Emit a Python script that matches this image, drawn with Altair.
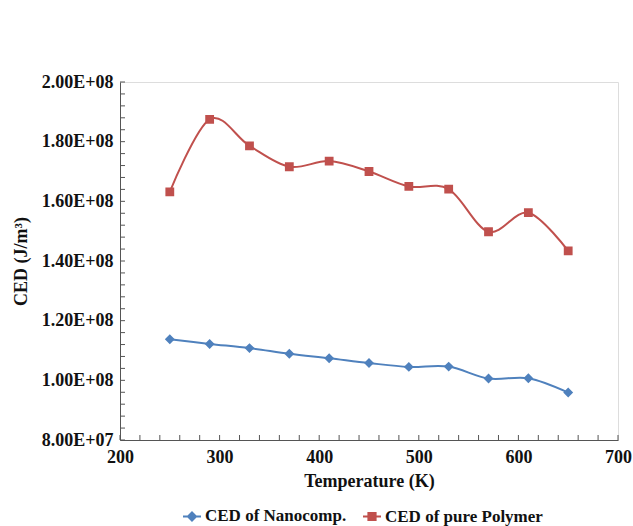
import altair as alt
import pandas as pd

temperature = [250, 290, 330, 370, 410, 450, 490, 530, 570, 610, 650]
ced_nanocomp = [1.1375e8, 1.122e8, 1.108e8, 1.089e8, 1.074e8, 1.058e8, 1.045e8, 1.046e8, 1.006e8, 1.007e8, 9.59e7]
ced_polymer = [1.632e8, 1.875e8, 1.786e8, 1.716e8, 1.735e8, 1.700e8, 1.650e8, 1.641e8, 1.498e8, 1.562e8, 1.434e8]
series_names = ["CED of Nanocomp.", "CED of pure Polymer"]
series_colors = ["#4F81BD", "#C0504D"]

x_major = [200, 300, 400, 500, 600, 700]
y_major = [8e7, 1.0e8, 1.2e8, 1.4e8, 1.6e8, 1.8e8, 2.0e8]
x_minor = [v for v in range(200, 701, 20)]
y_minor = [8e7 + i * 4e6 for i in range(31)]

rows = []
for t, a, b in zip(temperature, ced_nanocomp, ced_polymer):
    rows.append({"T": t, "CED": a, "Series": series_names[0]})
    rows.append({"T": t, "CED": b, "Series": series_names[1]})
df = pd.DataFrame(rows)

W, H = 498, 358
FONT = "'Liberation Serif', 'Times New Roman', 'DejaVu Serif', serif"

diamond = "M-1,0H1M0,-0.45L0.45,0L0,0.45L-0.45,0Z"
square = "M-1,0H1M-0.4,-0.4H0.4V0.4H-0.4Z"

xscale = alt.Scale(domain=[200, 700], nice=False, zero=False)
yscale = alt.Scale(domain=[8e7, 2e8], nice=False, zero=False)
color_scale = alt.Scale(domain=series_names, range=series_colors)
shape_scale = alt.Scale(domain=series_names, range=[diamond, square])

ylabel = ("datum.value >= 1e8 ? format(datum.value/1e8, '.2f') + 'E+08' : "
          "format(datum.value/1e7, '.2f') + 'E+07'")

x_enc = alt.X("T:Q", scale=xscale,
              axis=alt.Axis(values=x_major, title="Temperature (K)", ticks=False,
                            grid=False, labelPadding=8, titlePadding=6, labelFlush=False,
                            domainColor="#555555", labelFont=FONT, labelFontSize=18,
                            labelFontWeight="bold", labelColor="#111111",
                            titleFont=FONT, titleFontSize=18, titleFontWeight="bold",
                            titleColor="#111111"))
y_enc = alt.Y("CED:Q", scale=yscale,
              axis=alt.Axis(values=y_major, title="CED (J/m³)", ticks=False, grid=False,
                            labelExpr=ylabel, labelPadding=7, titlePadding=11, labelFlush=False,
                            domainColor="#555555", labelFont=FONT, labelFontSize=18,
                            labelFontWeight="bold", labelColor="#111111",
                            titleFont=FONT, titleFontSize=18, titleFontWeight="bold",
                            titleColor="#111111"))

legend = alt.Legend(title=None, orient="none", legendX=62, legendY=424,
                    direction="horizontal", symbolSize=324, labelFont=FONT,
                    labelFontSize=17, labelFontWeight="bold", labelColor="#111111",
                    labelOffset=3, columnPadding=12, symbolStrokeWidth=2)

lines = alt.Chart(df).mark_line(interpolate="cardinal", strokeWidth=2).encode(
    x=x_enc, y=y_enc,
    color=alt.Color("Series:N", scale=color_scale, legend=legend),
    detail="Series:N",
)
points = alt.Chart(df).mark_point(filled=True, size=484, strokeWidth=0, opacity=1).encode(
    x=alt.X("T:Q", scale=xscale),
    y=alt.Y("CED:Q", scale=yscale),
    color=alt.Color("Series:N", scale=color_scale, legend=legend),
    stroke=alt.Stroke("Series:N", scale=color_scale, legend=legend),
    shape=alt.Shape("Series:N", scale=shape_scale, legend=legend),
)

ydf = pd.DataFrame({"v": y_minor})
xdf = pd.DataFrame({"v": x_minor})
yticks = alt.Chart(ydf).mark_rule(color="#555555", strokeWidth=1).encode(
    y=alt.Y("v:Q", scale=yscale), x=alt.value(0), x2=alt.value(5))
xticks = alt.Chart(xdf).mark_rule(color="#555555", strokeWidth=1).encode(
    x=alt.X("v:Q", scale=xscale), y=alt.value(H), y2=alt.value(H - 5))

chart = alt.layer(lines, yticks, xticks, points).properties(
    width=W, height=H,
    autosize=alt.AutoSizeParams(type="none"),
    padding={"left": 120, "top": 82, "right": 15, "bottom": 86},
).configure_view(stroke=None).configure(background="white")

chart.save("out.html", embed_options={"renderer": "svg", "actions": False})
